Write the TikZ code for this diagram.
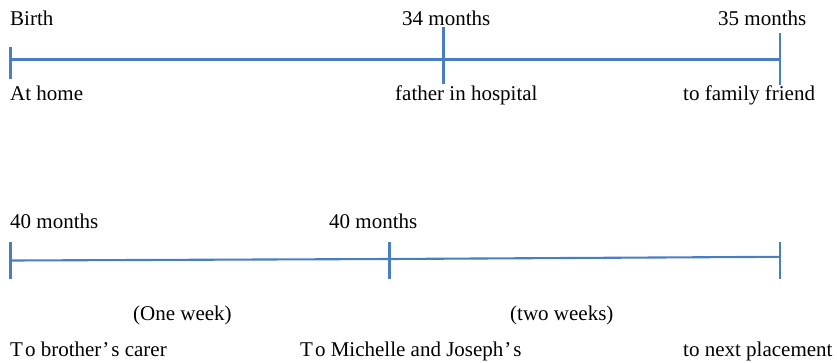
\documentclass[tikz,border=0pt]{standalone}
\usepackage{fontspec}
\setmainfont{Liberation Serif}
\definecolor{axisblue}{HTML}{4A7EC4}
\begin{document}
\begin{tikzpicture}[x=1pt,y=-1pt,
  axis/.style={draw=axisblue, line width=2.1pt},
  lbl/.style={anchor=base west, inner sep=0pt, font=\fontsize{21}{25}\selectfont}]
\useasboundingbox (0,0) rectangle (837,362);

% first timeline
\coordinate (t0) at (10.5,59.5);
\coordinate (t1) at (443.5,59.5);
\coordinate (t2) at (780,59.5);
\coordinate (t0a) at (10.5,47);   \coordinate (t0b) at (10.5,79);
\coordinate (t1a) at (443.5,27);  \coordinate (t1b) at (443.5,84);
\coordinate (t2a) at (780,33);    \coordinate (t2b) at (780,85);
\draw[axis] (t0) -- (t1) -- (t2);
\draw[axis] (t0a) -- (t0b);
\draw[axis] (t1a) -- (t1b);
\draw[axis] (t2a) -- (t2b);

\node[lbl] (birth) at (10,25) {Birth};
\node[lbl] (m34) at (402,25) {34 months};
\node[lbl] (m35) at (718,25) {35 months};
\node[lbl] (home) at (10,100) {At home};
\node[lbl] (hosp) at (395,100) {father in hospital};
\node[lbl] (friend) at (683,100) {to family friend};

% second timeline
\coordinate (b0) at (10.5,260.5);
\coordinate (b1) at (389.5,259);
\coordinate (b2) at (780,256.8);
\coordinate (b0a) at (10.5,242);  \coordinate (b0b) at (10.5,279);
\coordinate (b1a) at (389.5,242); \coordinate (b1b) at (389.5,279);
\coordinate (b2a) at (780,242);   \coordinate (b2b) at (780,279);
\draw[axis] (b0) -- (b1) -- (b2);
\draw[axis] (b0a) -- (b0b);
\draw[axis] (b1a) -- (b1b);
\draw[axis] (b2a) -- (b2b);

\node[lbl] (m40a) at (10,228) {40 months};
\node[lbl] (m40b) at (329,228) {40 months};
\node[lbl] (week1) at (133,320) {(One week)};
\node[lbl] (week2) at (510,320) {(two weeks)};
\node[lbl] (carer) at (10,356) {T\kern2pt o brother\kern1pt’\kern2pt s carer};
\node[lbl] (mj) at (300,356) {T\kern2pt o Michelle and Joseph\kern1pt’\kern2pt s};
\node[lbl] (next) at (683,356) {to next placement};
\end{tikzpicture}
\end{document}
